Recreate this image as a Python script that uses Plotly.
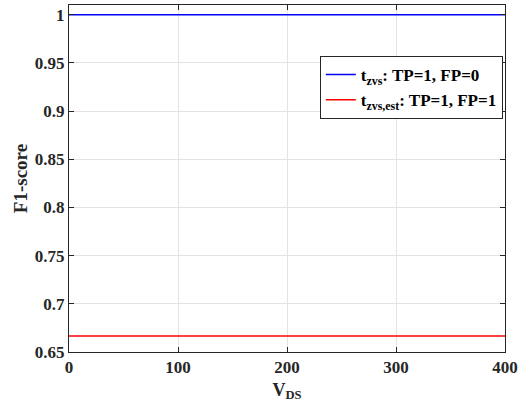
import plotly.graph_objects as go

v_ds = [0, 100, 200, 300, 400]
f1_tzvs = [1, 1, 1, 1, 1]
f1_tzvs_est = [0.6667, 0.6667, 0.6667, 0.6667, 0.6667]
x_ticks = [0, 100, 200, 300, 400]
x_tick_labels = ["0", "100", "200", "300", "400"]
y_ticks = [0.65, 0.7, 0.75, 0.8, 0.85, 0.9, 0.95, 1]
y_tick_labels = ["0.65", "0.7", "0.75", "0.8", "0.85", "0.9", "0.95", "1"]

font = "Liberation Serif, serif"

fig = go.Figure()
fig.add_trace(go.Scatter(x=v_ds, y=f1_tzvs, mode="lines",
                         line=dict(color="#0000ff", width=1.5),
                         name="<b>t<sub>zvs</sub>: TP=1, FP=0</b>"))
fig.add_trace(go.Scatter(x=v_ds, y=f1_tzvs_est, mode="lines",
                         line=dict(color="#ff0000", width=1.5),
                         name="<b>t<sub>zvs,est</sub>: TP=1, FP=1</b>"))

axis_common = dict(
    showline=True, linecolor="#262626", linewidth=1, mirror="ticks",
    ticks="inside", ticklen=5, tickcolor="#262626",
    showgrid=True, gridcolor="#e3e3e3", gridwidth=1,
    zeroline=False, automargin=False,
    tickfont=dict(family=font, size=17, color="#262626"),
)

fig.update_layout(
    width=529, height=410,
    margin=dict(l=69, r=24, t=5, b=58),
    paper_bgcolor="white", plot_bgcolor="white",
    font=dict(family=font, color="#262626"),
    xaxis=dict(range=[0, 400], tickvals=x_ticks,
               ticktext=["<b>%s</b>" % t for t in x_tick_labels],
               title=dict(text="<b>V<sub>DS</sub></b>", font=dict(family=font, size=18, color="#262626"), standoff=6),
               **axis_common),
    yaxis=dict(range=[0.65, 1.01], tickvals=y_ticks,
               ticktext=["<b>%s</b>" % t for t in y_tick_labels],
               title=dict(text="<b>F1-score</b>", font=dict(family=font, size=19, color="#262626"), standoff=2),
               **axis_common),
    legend=dict(x=0.995, y=0.853, xanchor="right", yanchor="top",
                bgcolor="white", bordercolor="#262626", borderwidth=1,
                font=dict(family=font, size=17, color="black"),
                tracegroupgap=0, itemwidth=30),
    showlegend=True,
)

fig.write_html("out.html", config={"displayModeBar": False},
               post_script="document.body.style.margin='0';")
